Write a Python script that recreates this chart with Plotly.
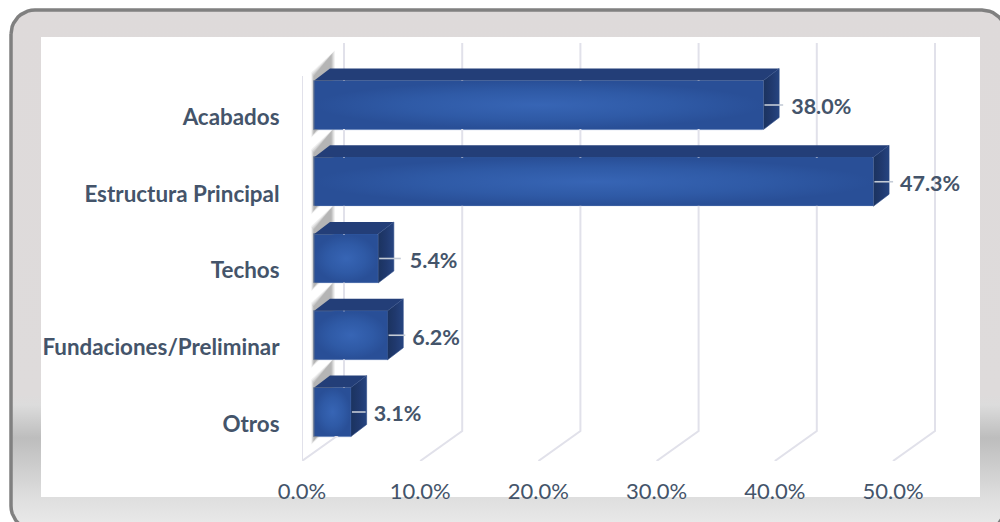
import math
import plotly.graph_objects as go

CATEGORIES = ["Acabados", "Estructura Principal", "Techos", "Fundaciones/Preliminar", "Otros"]
VALUES = [38.0, 47.3, 5.4, 6.2, 3.1]
X_TICKS = [0, 10, 20, 30, 40, 50]
X_TICK_LABELS = ["0.0%", "10.0%", "20.0%", "30.0%", "40.0%", "50.0%"]

# Hand-placed label offsets in the source chart (pixels past the bar's back edge)
LABEL_GAP = [12, 11, 16, 9, 7]
LEADER_END = [4, 4, 7, 2, -1]

PX_X = 11.82   # px per percent point
PX_Y = 76.75   # px per category step
TEXT = "#44546A"
W, H = 1000, 522


def ux(px):
    return px / PX_X


def uy(px):
    return px / PX_Y


BAR_START = ux(12.3)
DEPTH_X, DEPTH_Y = ux(15.7), uy(12)
BAR_H = 49 / PX_Y
BAR_SHIFT = 12 / PX_Y
WALL_X, WALL_Y = ux(42), uy(30)
GRID_BOTTOM = -37 / PX_Y
GRID_TOP = 4 + uy(117 - 43)
WALL_TOP = 4 + uy(117 - 76)

fig = go.Figure()


# ---- panel background on a full-page pixel axis pair ----
def rounded(x0, y0, x1, y1, r, steps=10):
    pts = []
    for cx, cy, a0 in [(x0 + r, y0 + r, 180), (x1 - r, y0 + r, 270), (x1 - r, y1 - r, 0), (x0 + r, y1 - r, 90)]:
        for k in range(steps + 1):
            a = math.radians(a0 + 90 * k / steps)
            pts.append((cx + r * math.cos(a), cy + r * math.sin(a)))
    pts.append(pts[0])
    return [p[0] for p in pts], [p[1] for p in pts]


PANEL_TOP, PANEL_BOTTOM = 10, 530


def stop(y):
    return (y - PANEL_TOP) / (PANEL_BOTTOM - PANEL_TOP)


px_, py_ = rounded(11, PANEL_TOP, 1006, PANEL_BOTTOM, 24)
fig.add_trace(go.Scatter(
    x=px_, y=py_, mode="lines", fill="toself", xaxis="x", yaxis="y",
    line=dict(color="#808080", width=3.5), hoverinfo="skip", showlegend=False,
    fillgradient=dict(type="vertical", start=PANEL_TOP, stop=PANEL_BOTTOM, colorscale=[
        [0, "#DEDADA"], [stop(395), "#DEDBDB"], [stop(405), "#DCDCDC"], [stop(438), "#BDBDBD"],
        [stop(497), "#DEDEDE"], [stop(522), "#E8E8E8"], [1, "#E8E8E8"]]),
))
fig.add_trace(go.Scatter(
    x=[41, 980, 980, 41, 41], y=[37, 37, 497, 497, 37], mode="lines", fill="toself",
    fillcolor="#FFFFFF", line=dict(width=0), hoverinfo="skip", showlegend=False,
    xaxis="x", yaxis="y",
))

AX = dict(xaxis="x2", yaxis="y2", hoverinfo="skip", showlegend=False)


def poly(xs, ys, color, **kw):
    fig.add_trace(go.Scatter(x=list(xs) + [xs[0]], y=list(ys) + [ys[0]], mode="lines", fill="toself",
                             fillcolor=color, line=dict(width=0), **AX, **kw))


# ---- back-wall gridlines ----
for t in X_TICKS:
    fig.add_trace(go.Scatter(
        x=[t, t + WALL_X, t + WALL_X], y=[GRID_BOTTOM, GRID_BOTTOM + WALL_Y, GRID_TOP], mode="lines",
        line=dict(color="#E1E1EA", width=2), **AX))
fig.add_trace(go.Scatter(x=[0, 0], y=[GRID_BOTTOM, WALL_TOP], mode="lines",
                         line=dict(color="#E1E1EA", width=2), **AX))

ys = [len(CATEGORIES) - 1 - i for i in range(len(CATEGORIES))]
centers = [y + BAR_SHIFT for y in ys]

# ---- soft shadows of the left face ----
for grow, op in [(10, 0.12), (7, 0.16), (4, 0.20), (1, 0.26)]:
    for c in centers:
        g = grow / PX_Y
        gx = grow / PX_X
        lx = BAR_START - ux(0.5) - gx * 0.25
        rx = BAR_START + ux(17) + gx * 0.35
        top = c + BAR_H / 2 + uy(4) + g * 0.4
        bot = c - BAR_H / 2 - uy(4) - g * 0.4
        poly([lx, rx, rx, lx], [top, top + uy(22), bot + uy(22), bot], f"rgba(125,125,125,{op})")

# ---- top and side faces ----
for v, c in zip(VALUES, centers):
    x0, x1 = BAR_START, BAR_START + v
    yt, yb = c + BAR_H / 2, c - BAR_H / 2
    poly([x0, x1, x1 + DEPTH_X, x0 + DEPTH_X], [yt, yt, yt + DEPTH_Y, yt + DEPTH_Y], "#233E78")
    fig.add_trace(go.Scatter(
        x=[x1, x1 + DEPTH_X, x1 + DEPTH_X, x1, x1],
        y=[yt, yt + DEPTH_Y, yb + DEPTH_Y, yb, yt],
        mode="lines", fill="toself", line=dict(color="#2B4A86", width=0.6),
        fillgradient=dict(type="horizontal", colorscale=[[0, "#1B335F"], [0.5, "#20396E"], [1, "#264480"]]), **AX))

# ---- front faces ----
fig.add_trace(go.Bar(
    orientation="h", y=centers, x=VALUES, base=BAR_START, width=BAR_H,
    marker=dict(color="#2C569F", line=dict(color="#5F7DB5", width=0.8)),
    **AX))
for v, c in zip(VALUES, centers):
    x0, x1 = BAR_START + 0.02, BAR_START + v - 0.02
    yt, yb = c + BAR_H / 2 - 0.008, c - BAR_H / 2 + 0.008
    fig.add_trace(go.Scatter(
        x=[x0, x1, x1, x0, x0], y=[yt, yt, yb, yb, yt], mode="lines", fill="toself",
        line=dict(width=0),
        fillgradient=dict(type="radial", colorscale=[[0, "#3765B5"], [0.6, "#2F5AA6"], [1, "#294F97"]]),
        **AX))

# ---- leader lines and labels ----
for v, c, lead in zip(VALUES, centers, LEADER_END):
    x1 = BAR_START + v
    fig.add_trace(go.Scatter(
        x=[x1 + ux(1), x1 + DEPTH_X + ux(lead)], y=[c, c], mode="lines",
        line=dict(color="#C4CBD6", width=1.6), **AX))
fig.add_trace(go.Scatter(
    x=[BAR_START + v + DEPTH_X + ux(g) for v, g in zip(VALUES, LABEL_GAP)],
    y=[c - uy(4) for c in centers],
    mode="text", text=[f"<b>{v:.1f}%</b>" for v in VALUES], textposition="middle right",
    textfont=dict(family="Lato", size=21.5, color=TEXT), cliponaxis=False, **AX))

PLOT_L, PLOT_R, PLOT_T, PLOT_B = 302, 980, 37, 461
fig.update_layout(
    width=W, height=H, margin=dict(l=0, r=0, t=0, b=0, pad=0, autoexpand=False),
    paper_bgcolor="#FFFFFF", plot_bgcolor="rgba(0,0,0,0)", showlegend=False, bargap=0,
    font=dict(family="Lato", color=TEXT),
    xaxis=dict(domain=[0, 1], range=[0, W], visible=False, fixedrange=True),
    yaxis=dict(domain=[0, 1], range=[H, 0], visible=False, fixedrange=True),
    xaxis2=dict(domain=[PLOT_L / W, PLOT_R / W], range=[0, (PLOT_R - PLOT_L) / PX_X], anchor="y2",
                tickmode="array", tickvals=X_TICKS, ticktext=X_TICK_LABELS,
                showgrid=False, zeroline=False, showline=False,
                ticks="outside", ticklen=11, tickcolor="rgba(0,0,0,0)",
                tickfont=dict(family="Lato", size=22, color=TEXT), fixedrange=True),
    yaxis2=dict(domain=[1 - PLOT_B / H, 1 - PLOT_T / H], anchor="x2",
                range=[GRID_BOTTOM, 4 + uy(117 - PLOT_T)],
                tickmode="array", tickvals=ys, ticktext=[f"<b>{c}</b>" for c in CATEGORIES],
                showgrid=False, zeroline=False, showline=False,
                ticks="outside", ticklen=17, tickcolor="rgba(0,0,0,0)",
                tickfont=dict(family="Lato", size=22.4, color=TEXT), fixedrange=True),
)
fig.write_html("out.html", config=dict(displayModeBar=False),
               post_script="document.body.style.margin='0';document.body.style.overflow='hidden';")
